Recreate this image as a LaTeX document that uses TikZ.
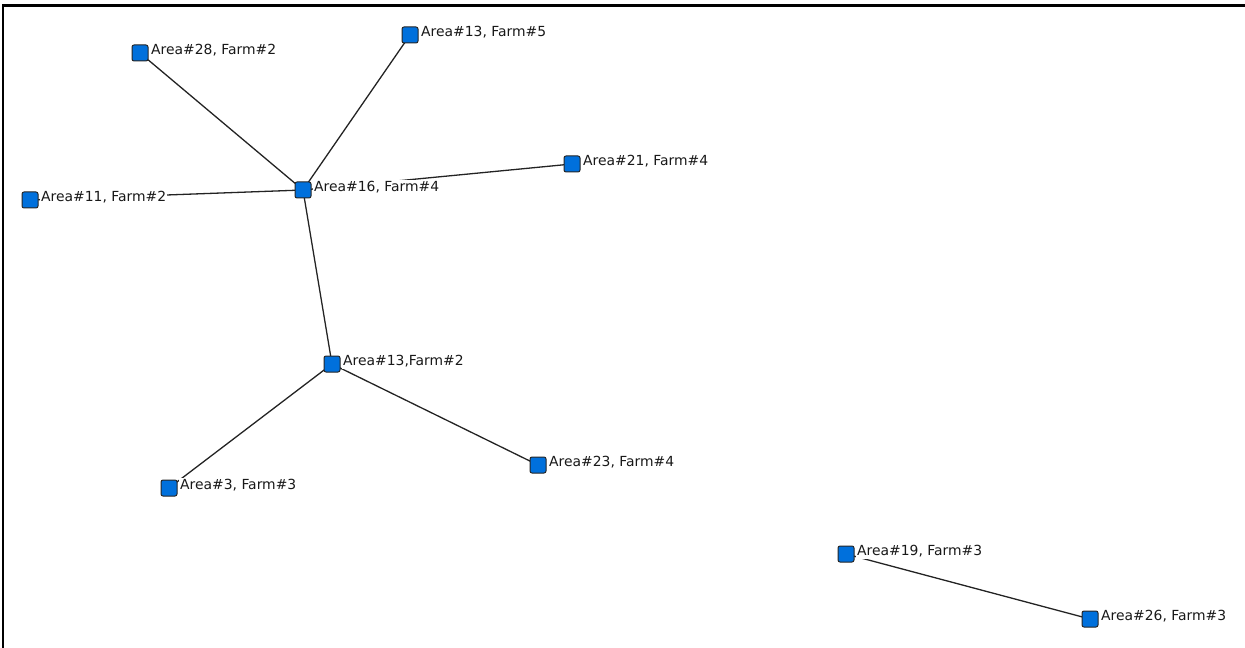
\documentclass[tikz,border=0pt]{standalone}
\usepackage{fontspec}
\setmainfont{DejaVu Sans}
\usetikzlibrary{backgrounds}
\definecolor{nodeblue}{RGB}{0,112,220}
\definecolor{edgegray}{RGB}{35,35,35}
\tikzset{
  farm/.style={draw=black!85, line width=1bp, fill=nodeblue, rounded corners=2bp,
    minimum width=16bp, minimum height=16bp, inner sep=0pt},
  farmlabel/.style={anchor=west, fill=white, inner xsep=1bp, inner ysep=2bp,
    font=\fontsize{13.9bp}{15bp}\selectfont, text=black!90},
  link/.style={draw=edgegray, line width=1.3bp}
}
\newcommand{\farmnode}[4]{%
  \node[farmlabel] (#1l) at (#2+10,#3-2.5) {#4};
  \node[farm] (#1) at (#2,#3) {};
}
\begin{document}
\begin{tikzpicture}[x=1bp,y=-1bp]
\useasboundingbox (0,0) rectangle (1245,648);
\draw[line width=2.2bp] (3,648) -- (3,5.5) -- (1245,5.5);
\farmnode{a28}{140}{53}{Area\#28, Farm\#2}
\farmnode{a13f5}{410}{35}{Area\#13, Farm\#5}
\farmnode{a21}{572}{164}{Area\#21, Farm\#4}
\farmnode{a11}{30}{200}{Area\#11, Farm\#2}
\farmnode{a16}{303}{190}{Area\#16, Farm\#4}
\farmnode{a13f2}{332}{364}{Area\#13,Farm\#2}
\farmnode{a3}{169}{488}{Area\#3, Farm\#3}
\farmnode{a23}{538}{465}{Area\#23, Farm\#4}
\farmnode{a19}{846}{554}{Area\#19, Farm\#3}
\farmnode{a26}{1090}{619}{Area\#26, Farm\#3}
\begin{pgfonlayer}{background}
\draw[link] (a28.center) -- (a16.center);
\draw[link] (a13f5.center) -- (a16.center);
\draw[link] (a21.center) -- (a16.center);
\draw[link] (a11.center) -- (a16.center);
\draw[link] (a16.center) -- (a13f2.center);
\draw[link] (a13f2.center) -- (a3.center);
\draw[link] (a13f2.center) -- (a23.center);
\draw[link] (a19.center) -- (a26.center);
\end{pgfonlayer}
\end{tikzpicture}
\end{document}
